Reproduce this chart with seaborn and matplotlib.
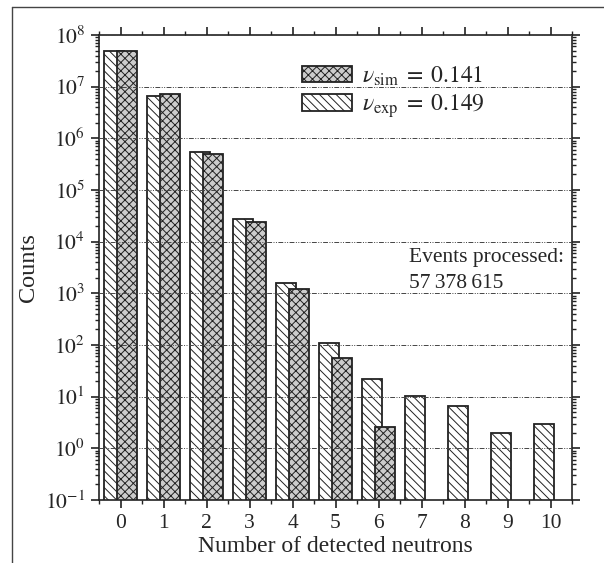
import numpy as np
import pandas as pd
import matplotlib
matplotlib.use("Agg")
import matplotlib.pyplot as plt
import matplotlib.ticker as mticker
from matplotlib.patches import Patch
from matplotlib.lines import Line2D
import seaborn as sns

# ---- data ----
neutrons = [0, 1, 2, 3, 4, 5, 6, 7, 8, 9, 10]
counts_exp = [4.8e7, 6.6e6, 5.4e5, 2.8e4, 1.6e3, 111, 22, 10.5, 6.7, 1.95, 3.0]
neutrons_sim = [0, 1, 2, 3, 4, 5, 6]
counts_sim = [4.8e7, 7.1e6, 5.0e5, 2.4e4, 1.2e3, 57, 2.6]
y_decades = [-1, 0, 1, 2, 3, 4, 5, 6, 7, 8]
label_sim = r"$\nu_{\mathrm{sim}}\;=\;0.141$"
label_exp = r"$\nu_{\mathrm{exp}}\;=\;0.149$"
events_text = ["Events processed:", "57\u2009378\u2009615"]
xlabel = "Number of detected neutrons"
ylabel = "Counts"

sns.set_style("ticks")
plt.rcParams["font.family"] = ["Liberation Serif", "DejaVu Serif"]
plt.rcParams["mathtext.fontset"] = "stix"
plt.rcParams["hatch.linewidth"] = 0.7
plt.rcParams["hatch.color"] = "#222222"

W, H = 604, 563
fig = plt.figure(figsize=(W / 100, H / 100), dpi=100)
ax = fig.add_axes([99 / W, (H - 500) / H, 473 / W, 465 / H])

off = 0.15
bw = 0.46
df_exp = pd.DataFrame({"x": np.array(neutrons) - off, "y": counts_exp})
df_sim = pd.DataFrame({"x": np.array(neutrons_sim) + off, "y": counts_sim})

hatch_exp = "\\\\\\\\"
hatch_sim = "xxxx"
fc_sim = "#cccccc"
ec = "#222222"

sns.barplot(data=df_exp, x="x", y="y", native_scale=True, width=bw,
            color="white", saturation=1, errorbar=None, hatch=hatch_exp,
            edgecolor=ec, linewidth=1.3, ax=ax)
sns.barplot(data=df_sim, x="x", y="y", native_scale=True, width=bw,
            color=fc_sim, saturation=1, errorbar=None, hatch=hatch_sim,
            edgecolor=ec, linewidth=1.3, ax=ax)

ax.set_yscale("log")
ax.set_ylim(0.1, 1e8)
ax.set_xlim(-0.5, 10.5)
ax.set_xticks(neutrons)
ax.set_xticklabels([str(n) for n in neutrons])
ax.xaxis.set_minor_locator(mticker.FixedLocator(np.arange(-0.5, 11, 1)))
ax.xaxis.set_minor_formatter(mticker.NullFormatter())
ax.set_yticks([10.0 ** d for d in y_decades])
ax.set_yticklabels([r"$10^{%d}$" % d for d in y_decades])
minor_y = [m * 10.0 ** d for d in y_decades[:-1] for m in range(2, 10)]
ax.yaxis.set_minor_locator(mticker.FixedLocator(minor_y))
ax.yaxis.set_minor_formatter(mticker.NullFormatter())

ax.set_axisbelow(False)
ax.grid(axis="y", which="major", color="#444444", linewidth=0.7,
        linestyle=(0, (5, 1.5, 1, 1.5, 1, 1.5)))

for s in ax.spines.values():
    s.set_linewidth(1.2)
    s.set_color("#222222")

ax.tick_params(which="both", direction="out", top=True, right=True,
               labelsize=15.5, color="#222222")
ax.tick_params(which="major", length=6, width=1.2, pad=4)
ax.tick_params(which="minor", length=3.2, width=1.0)

ax.set_xlabel(xlabel, fontsize=17, labelpad=2)
ax.set_ylabel(ylabel, fontsize=17.5, labelpad=4)

handles = [Patch(facecolor=fc_sim, edgecolor=ec, hatch=hatch_sim, linewidth=1.3, label=label_sim),
           Patch(facecolor="white", edgecolor=ec, hatch=hatch_exp, linewidth=1.3, label=label_exp)]
leg = ax.legend(handles=handles, loc="upper left", bbox_to_anchor=(0.429, 0.937),
                frameon=False, fontsize=17, borderpad=0, borderaxespad=0,
                handlelength=2.1, handleheight=0.72, handletextpad=0.45,
                labelspacing=0.2)

ax.text(0.655, 0.511, events_text[0], transform=ax.transAxes, fontsize=15.5, va="baseline")
ax.text(0.655, 0.455, events_text[1], transform=ax.transAxes, fontsize=15.5, va="baseline")

# outer frame (left and top edges)
fig.add_artist(Line2D([12 / W, 12 / W], [0, 1 - 7 / H], transform=fig.transFigure,
                      color="#444444", linewidth=1.0))
fig.add_artist(Line2D([12 / W, 1], [1 - 7 / H, 1 - 7 / H], transform=fig.transFigure,
                      color="#444444", linewidth=1.0))

fig.savefig("out.png", dpi=100)
